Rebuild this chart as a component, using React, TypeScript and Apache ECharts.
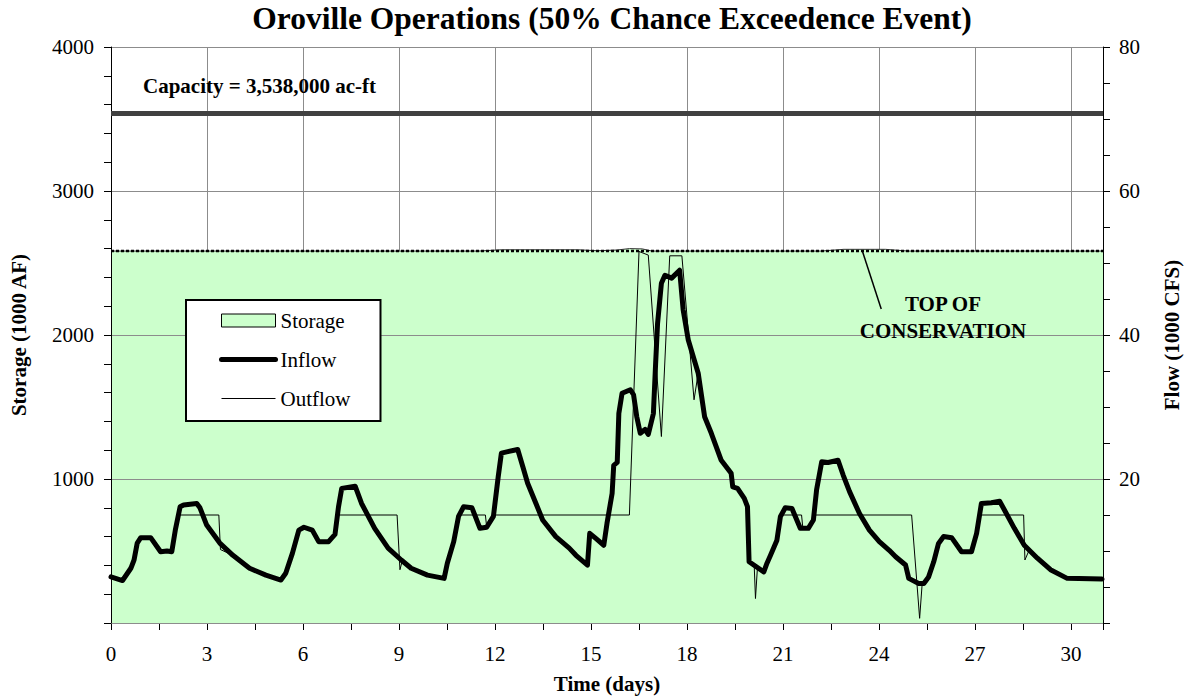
import React, { useEffect, useRef } from "react";
import * as echarts from "echarts";

const FONT = '"Liberation Serif", "Times New Roman", Times, serif';

const titleText = "Oroville Operations (50% Chance Exceedence Event)";
const capacityLabel = "Capacity = 3,538,000 ac-ft";
const capacityAF = 3538;
const topConservationAF = 2583;
const seriesNames = ["Storage", "Inflow", "Outflow"];

const inflowDays = [
  0.0, 0.36, 0.62, 0.72, 0.82, 0.93, 1.24, 1.55, 1.75, 1.9, 2.01, 2.16, 2.27, 2.68, 2.78, 2.99,
  3.4, 3.81, 4.33, 4.84, 5.31, 5.46, 5.67, 5.87, 6.03, 6.29, 6.49, 6.8, 7.0, 7.11, 7.21, 7.63,
  7.83, 8.24, 8.66, 9.07, 9.38, 9.89, 10.41, 10.51, 10.71, 10.86, 11.02, 11.28, 11.53, 11.74,
  11.95, 12.1, 12.2, 12.4, 12.71, 12.87, 13.02, 13.28, 13.49, 13.9, 14.32, 14.53, 14.89, 14.96,
  15.15, 15.4, 15.5, 15.66, 15.71, 15.82, 15.87, 15.97, 16.23, 16.33, 16.43, 16.54, 16.69, 16.79,
  16.95, 17.02, 17.08, 17.2, 17.31, 17.52, 17.77, 17.88, 18.04, 18.35, 18.55, 18.76, 19.07,
  19.38, 19.43, 19.58, 19.79, 19.89, 19.94, 20.4, 20.5, 20.61, 20.81, 20.92, 21.07, 21.28,
  21.54, 21.79, 21.95, 22.05, 22.21, 22.41, 22.72, 22.88, 23.08, 23.39, 23.7, 24.01, 24.32,
  24.52, 24.83, 24.93, 25.24, 25.4, 25.55, 25.71, 25.86, 26.02, 26.27, 26.58, 26.89, 27.05,
  27.2, 27.51, 27.77, 27.92, 28.23, 28.54, 28.95, 29.36, 29.88, 30.97,
];
const inflowFlow = [
  6.4, 5.9, 7.6, 8.75, 11.1, 11.85, 11.85, 9.9, 10.0, 9.9, 12.9, 16.15, 16.4, 16.6, 16.0, 13.6,
  11.1, 9.4, 7.6, 6.65, 5.97, 6.9, 9.7, 12.9, 13.3, 12.9, 11.3, 11.3, 12.3, 16.15, 18.7, 19.0,
  16.6, 13.15, 10.4, 8.75, 7.6, 6.65, 6.2, 8.3, 11.3, 14.8, 16.15, 16.0, 13.15, 13.3,
  14.8, 20.3, 23.6, 23.8, 24.1, 21.7, 19.4, 16.6, 14.3, 12.0, 10.4, 9.4, 8.05, 12.45,
  11.75, 10.8, 13.85, 18.0, 21.9, 22.3, 29.1, 31.9, 32.4, 31.7, 28.65, 26.35, 26.9, 26.2,
  29.1, 36.1, 41.6, 47.2, 48.3, 47.9, 49.0, 43.5, 39.3, 34.7, 28.65, 26.35, 22.6,
  20.8, 18.9, 18.7, 17.3, 16.15, 8.5, 7.1, 8.3, 9.4, 11.5, 14.8, 16.0, 15.9,
  13.15, 13.15, 14.3, 18.5, 22.4, 22.3, 22.6, 20.55, 18.25, 15.2, 12.9, 11.3, 10.1,
  9.2, 8.05, 6.2, 5.5, 5.5, 6.4, 8.5, 11.05, 12.0, 11.85, 9.9, 9.9, 12.45,
  16.6, 16.7, 16.9, 15.7, 13.15, 10.8, 9.0, 7.4, 6.2, 6.1,
];

const outflowDays = [
  0.0, 0.36, 0.62, 0.72, 0.82, 0.93, 1.24, 1.55, 1.75, 1.9, 2.01, 2.08, 3.37, 3.42, 3.81, 4.33,
  4.84, 5.31, 5.46, 5.67, 5.87, 6.03, 6.29, 6.49, 6.8, 7.0, 7.05, 8.94, 9.03, 9.1, 9.38, 9.89,
  10.41, 10.51, 10.71, 10.86, 10.9, 11.7, 11.74, 11.95, 11.98, 16.2, 16.5, 16.79, 17.2, 17.46,
  17.84, 18.22, 18.35, 18.55, 18.76, 19.07, 19.38, 19.43, 19.58, 19.79, 19.89, 19.94, 20.1,
  20.14, 20.2, 20.4, 20.5, 20.61, 20.81, 20.92, 20.95, 21.58, 21.62, 21.79, 21.95, 22.0, 25.02,
  25.27, 25.35, 25.4, 25.55, 25.71, 25.86, 26.02, 26.27, 26.58, 26.89, 27.05, 27.12, 28.52,
  28.56, 28.7, 28.95, 29.36, 29.88, 30.97,
];
const outflowFlow = [
  6.4, 5.9, 7.6, 8.75, 11.1, 11.85, 11.85, 9.9, 10.0, 9.9, 12.9, 15.0, 15.0, 10.2, 9.4, 7.6,
  6.65, 5.97, 6.9, 9.7, 12.9, 13.3, 12.9, 11.3, 11.3, 12.3, 15.0, 15.0, 7.4, 8.6, 7.6, 6.65,
  6.2, 8.3, 11.3, 14.8, 15.0, 15.0, 13.3, 14.8, 15.0, 15.0, 51.6, 51.1, 25.9, 51.0,
  51.0, 31.0, 34.7, 28.65, 26.35, 22.6, 20.8, 18.9, 18.7, 17.3, 16.15, 8.5, 8.0,
  3.4, 7.6, 7.1, 8.3, 9.4, 11.5, 14.8, 15.0, 15.0, 13.2, 13.15, 14.3, 15.0, 15.0,
  0.65, 5.5, 5.5, 6.4, 8.5, 11.05, 12.0, 11.85, 9.9, 9.9, 12.45, 15.0, 15.0,
  8.75, 10.2, 9.0, 7.4, 6.2, 6.1,
];

const storageDays = [0, 11.5, 12.2, 14.6, 15.2, 15.8, 16.2, 16.6, 16.9, 22.2, 22.9, 24.2, 24.9, 31];
const storageAF = [2583, 2583, 2592, 2592, 2585, 2590, 2600, 2598, 2583, 2583, 2595, 2595, 2583, 2583];

const pairs = (xs: number[], ys: number[]) => xs.map((x, i) => [x, ys[i]]);

export default function App() {
  const ref = useRef<HTMLDivElement>(null);
  useEffect(() => {
    if (!ref.current) return;
    const chart = echarts.init(ref.current, undefined, { renderer: "svg" });
    const axisLabel = { fontFamily: FONT, fontSize: 21, color: "#000" };
    const nameStyle = { fontFamily: FONT, fontSize: 21, fontWeight: "bold" as const, color: "#000" };
    chart.setOption({
      animation: false,
      backgroundColor: "#fff",
      textStyle: { fontFamily: FONT },
      grid: { left: 110, right: 77, top: 47, bottom: 77 },
      legend: {
        orient: "vertical",
        left: 186,
        top: 300,
        data: [
          { name: seriesNames[0], icon: "rect", itemStyle: { color: "#ccffcc", borderColor: "#000", borderWidth: 1 } },
          { name: seriesNames[1], itemStyle: { opacity: 0 }, lineStyle: { width: 5, color: "#000" } },
          { name: seriesNames[2], itemStyle: { opacity: 0 }, lineStyle: { width: 1, color: "#000" } },
        ],
        itemWidth: 54,
        itemHeight: 13,
        itemGap: 18,
        padding: [10, 30, 12, 33],
        backgroundColor: "#fff",
        borderColor: "#000",
        borderWidth: 2,
        borderRadius: 0,
        textStyle: { fontFamily: FONT, fontSize: 21, color: "#000" },
        selectedMode: false,
      },
      xAxis: {
        type: "value",
        min: 0,
        max: 31,
        interval: 3,
        name: "Time (days)",
        nameLocation: "middle",
        nameGap: 50,
        nameTextStyle: nameStyle,
        axisLine: { show: true, lineStyle: { color: "#000", width: 1 } },
        axisTick: { show: true, length: 7, lineStyle: { color: "#000" } },
        minorTick: { show: true, splitNumber: 2, length: 7, lineStyle: { color: "#000" } },
        axisLabel: { ...axisLabel, margin: 20, showMaxLabel: false, formatter: (v: number) => String(v) },
        splitLine: { show: true, lineStyle: { color: "#8c8c8c", width: 1 } },
      },
      yAxis: [
        {
          type: "value",
          min: 0,
          max: 4000,
          interval: 1000,
          z: 3,
          name: "Storage (1000 AF)",
          nameLocation: "middle",
          nameGap: 82,
          nameTextStyle: nameStyle,
          axisLine: { show: true, lineStyle: { color: "#000", width: 1 } },
          axisTick: { show: true, length: 7, lineStyle: { color: "#000" } },
          minorTick: { show: true, splitNumber: 5, length: 7, lineStyle: { color: "#000" } },
          axisLabel: { ...axisLabel, margin: 17, showMinLabel: false, formatter: (v: number) => String(v) },
          splitLine: { show: true, lineStyle: { color: "#8c8c8c", width: 1 } },
        },
        {
          type: "value",
          min: 0,
          max: 80,
          interval: 20,
          position: "right",
          z: 3,
          name: "Flow (1000 CFS)",
          nameLocation: "middle",
          nameGap: 58,
          nameTextStyle: nameStyle,
          axisLine: { show: true, lineStyle: { color: "#000", width: 1 } },
          axisTick: { show: true, length: 7, lineStyle: { color: "#000" } },
          minorTick: { show: true, splitNumber: 4, length: 7, lineStyle: { color: "#000" } },
          axisLabel: { ...axisLabel, margin: 16, showMinLabel: false, formatter: (v: number) => String(v) },
          splitLine: { show: false },
        },
      ],
      series: [
        {
          name: seriesNames[0],
          type: "line",
          yAxisIndex: 0,
          data: pairs(storageDays, storageAF),
          symbol: "none",
          color: "#ccffcc",
          lineStyle: { color: "#333", width: 1 },
          areaStyle: { color: "#ccffcc", opacity: 1 },
          z: 1,
        },
        {
          name: "Top of Conservation",
          type: "line",
          yAxisIndex: 0,
          data: [[0, topConservationAF], [31, topConservationAF]],
          symbol: "none",
          lineStyle: { color: "#000", width: 2.5, type: [3, 2] },
          z: 4,
          silent: true,
          markLine: {
            silent: true,
            symbol: "none",
            label: { show: false },
            lineStyle: { color: "#000", width: 1.5, type: "solid" },
            data: [[{ coord: [23.48, topConservationAF] }, { coord: [24.07, 2181] }]],
          },
        },
        {
          name: "Capacity",
          type: "line",
          yAxisIndex: 0,
          data: [[0, capacityAF], [31, capacityAF]],
          symbol: "none",
          lineStyle: { color: "#404040", width: 5 },
          z: 4,
          silent: true,
        },
        {
          name: seriesNames[1],
          type: "line",
          yAxisIndex: 1,
          data: pairs(inflowDays, inflowFlow),
          symbol: "none",
          color: "#000",
          lineStyle: { color: "#000", width: 5, join: "round", cap: "round" },
          z: 6,
        },
        {
          name: seriesNames[2],
          type: "line",
          yAxisIndex: 1,
          data: pairs(outflowDays, outflowFlow),
          symbol: "none",
          color: "#000",
          lineStyle: { color: "#000", width: 1 },
          z: 7,
        },
      ],
      graphic: [
        {
          type: "text",
          x: 612,
          y: 18,
          style: { text: titleText, font: `bold 31.5px ${FONT}`, fill: "#000", textAlign: "center", textVerticalAlign: "middle" },
        },
        {
          type: "text",
          x: 143,
          y: 86,
          z: 10,
          style: { text: capacityLabel, font: `bold 21px ${FONT}`, fill: "#000", textAlign: "left", textVerticalAlign: "middle" },
        },
        {
          type: "text",
          x: 943,
          y: 304,
          z: 10,
          style: { text: "TOP OF", font: `bold 21px ${FONT}`, fill: "#000", textAlign: "center", textVerticalAlign: "middle" },
        },
        {
          type: "text",
          x: 943,
          y: 331,
          z: 10,
          style: { text: "CONSERVATION", font: `bold 21px ${FONT}`, fill: "#000", textAlign: "center", textVerticalAlign: "middle" },
        },
      ],
    });
    return () => chart.dispose();
  }, []);
  return (
    <div
      ref={ref}
      style={{ position: "fixed", left: 0, top: 0, width: 1190, height: 700, background: "#fff" }}
    />
  );
}
